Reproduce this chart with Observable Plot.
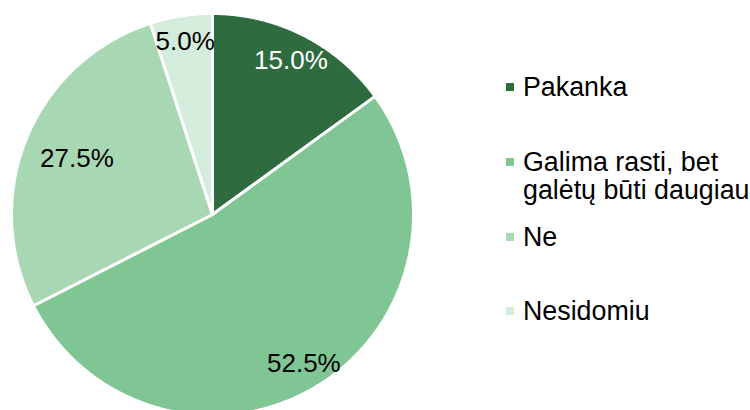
<!DOCTYPE html>
<html><head><meta charset="utf-8">
<script src="https://cdn.jsdelivr.net/npm/d3@7"></script>
<script src="https://cdn.jsdelivr.net/npm/@observablehq/plot@0.6"></script>
<style>
body{margin:0;background:#fff;font-family:"Liberation Sans",Arial,sans-serif;}
#wrap{position:relative;width:750px;height:410px;overflow:hidden;}
#legend{position:absolute;left:506px;top:0;width:244px;height:410px;}
.item{position:absolute;left:0;white-space:pre-line;font-size:26.8px;line-height:28px;color:#000;padding-left:17px;}
.sw{position:absolute;left:0;top:10px;width:8px;height:8px;}
</style></head>
<body><div id="wrap"><div id="chart"></div><div id="legend"></div></div>
<script>
// Data
const categories = ["Pakanka", "Galima rasti, bet\ngalėtų būti daugiau", "Ne", "Nesidomiu"];
const values = [15.0, 52.5, 27.5, 5.0];
const valueLabels = ["15.0%", "52.5%", "27.5%", "5.0%"];
const colors = ["#2e6b3f", "#80c694", "#a8d7b4", "#d4ecdb"];
const labelColors = ["#ffffff", "#000000", "#000000", "#000000"];

// Layout
const W = 750, H = 410, cx = 212, cy = 214, R = 201;
const labelRadius = [0.86, 0.87, 0.73, 0.87];

const total = d3.sum(values);
const slicePts = [];
const labels = [];
let acc = 0;
values.forEach((v, i) => {
  const a0 = acc / total * 2 * Math.PI;
  acc += v;
  const a1 = acc / total * 2 * Math.PI;
  slicePts.push({cat: categories[i], x: 0, y: 0});
  const n = Math.max(2, Math.ceil((a1 - a0) / (Math.PI / 360)));
  for (let k = 0; k <= n; k++) {
    const a = a0 + (a1 - a0) * k / n;
    slicePts.push({cat: categories[i], x: R * Math.sin(a), y: R * Math.cos(a)});
  }
  slicePts.push({cat: categories[i], x: 0, y: 0});
  const am = (a0 + a1) / 2, r = R * labelRadius[i];
  labels.push({text: valueLabels[i], x: r * Math.sin(am), y: r * Math.cos(am), c: labelColors[i]});
});

const plot = Plot.plot({
  width: W, height: H, margin: 0,
  x: {domain: [-cx, W - cx], axis: null},
  y: {domain: [-(H - cy), cy], axis: null},
  color: {domain: categories, range: colors},
  style: {fontFamily: '"Liberation Sans", Arial, sans-serif', background: "#fff"},
  marks: [
    Plot.line(slicePts, {x: "x", y: "y", z: "cat", fill: "cat", stroke: "white", strokeWidth: 3, strokeLinejoin: "round"}),
    Plot.text(labels, {x: "x", y: "y", text: "text", fill: d => d.c, fontSize: 26})
  ]
});
document.getElementById("chart").appendChild(plot);

const leg = document.getElementById("legend");
categories.forEach((c, i) => {
  const it = document.createElement("div");
  it.className = "item";
  it.style.top = (73 + 74.8 * i) + "px";
  const sw = document.createElement("div");
  sw.className = "sw";
  sw.style.background = colors[i];
  it.appendChild(sw);
  it.appendChild(document.createTextNode(c));
  leg.appendChild(it);
});
</script></body></html>
